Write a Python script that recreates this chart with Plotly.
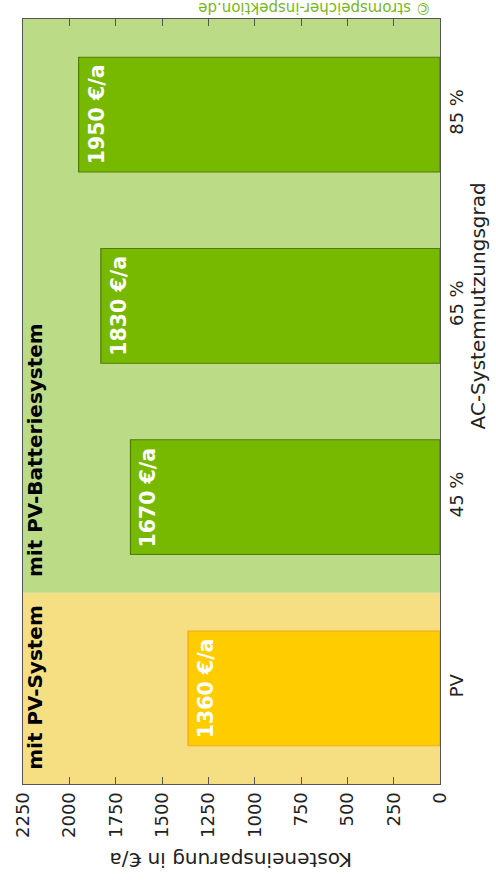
import plotly.graph_objects as go

categories = ["PV", "45 %", "65 %", "85 %"]
values = [1360, 1670, 1830, 1950]
bar_labels = ["1360 €/a", "1670 €/a", "1830 €/a", "1950 €/a"]
value_ticks = [0, 250, 500, 750, 1000, 1250, 1500, 1750, 2000, 2250]
group_labels = ["mit PV-System", "mit PV-Batteriesystem"]

bar_fill = ["#FFCC00", "#77B800", "#77B800", "#77B800"]
bar_line = ["#F5A623", "#4E7F00", "#4E7F00", "#4E7F00"]

FONT = "DejaVu Sans"

fig = go.Figure()
fig.add_trace(go.Bar(
    y=categories, x=values, orientation="h", width=0.6,
    marker=dict(color=bar_fill, line=dict(color=bar_line, width=1.2)),
    hoverinfo="skip", showlegend=False,
))

# background bands
fig.add_shape(type="rect", xref="paper", yref="y", x0=0, x1=1, y0=-0.5, y1=0.5,
              fillcolor="#F6DF82", line_width=0, layer="below")
fig.add_shape(type="rect", xref="paper", yref="y", x0=0, x1=1, y0=0.5, y1=3.5,
              fillcolor="#BCDB86", line_width=0, layer="below")

# bar value labels
for c, v, t in zip(categories, values, bar_labels):
    fig.add_annotation(x=v, y=c, xref="x", yref="y", text=t, showarrow=False,
                       textangle=-90, xanchor="left", yanchor="middle", xshift=4,
                       font=dict(family=FONT, size=20.5, color="white", weight="bold"))

# group labels
fig.add_annotation(x=0.027, y=-0.5, xref="paper", yref="y", text=group_labels[0],
                   showarrow=False, textangle=-90, xanchor="center", yanchor="bottom",
                   yshift=12, font=dict(family=FONT, size=20, color="black", weight="bold"))
fig.add_annotation(x=0.027, y=0.5, xref="paper", yref="y", text=group_labels[1],
                   showarrow=False, textangle=-90, xanchor="center", yanchor="bottom",
                   yshift=14, font=dict(family=FONT, size=20, color="black", weight="bold"))

# axis titles
fig.add_annotation(x=0.5, y=-0.1, xref="paper", yref="paper",
                   text="Kosteneinsparung in €/a", showarrow=False, textangle=180,
                   xanchor="center", yanchor="middle",
                   font=dict(family=FONT, size=20, color="#222"))
fig.add_annotation(x=1.09, y=2, xref="paper", yref="y",
                   text="AC-Systemnutzungsgrad", showarrow=False, textangle=-90,
                   xanchor="center", yanchor="middle",
                   font=dict(family=FONT, size=20, color="#222"))
# copyright
fig.add_annotation(x=0.983, y=1.0137, xref="paper", yref="paper",
                   text="© stromspeicher-inspektion.de", showarrow=False, textangle=180,
                   xanchor="right", yanchor="middle",
                   font=dict(family=FONT, size=15, color="#7AB51D"))

fig.update_layout(
    width=496, height=886,
    margin=dict(l=20, r=56, t=19, b=102),
    paper_bgcolor="white", plot_bgcolor="white",
    bargap=0.4,
    font=dict(family=FONT, color="#222"),
    xaxis=dict(range=[2250, 0], tickvals=value_ticks, ticks="inside", ticklen=7,
               tickangle=-90, tickfont=dict(size=18), showgrid=False, zeroline=False,
               showline=True, linecolor="#555", linewidth=1, mirror="ticks",
               tickcolor="#555"),
    yaxis=dict(categoryorder="array", categoryarray=categories, range=[-0.5, 3.5],
               side="right", tickangle=-90, tickfont=dict(size=18), ticks="",
               showgrid=False, zeroline=False, showline=True, linecolor="#555",
               linewidth=1, mirror=True),
)

fig.write_html("out.html")
